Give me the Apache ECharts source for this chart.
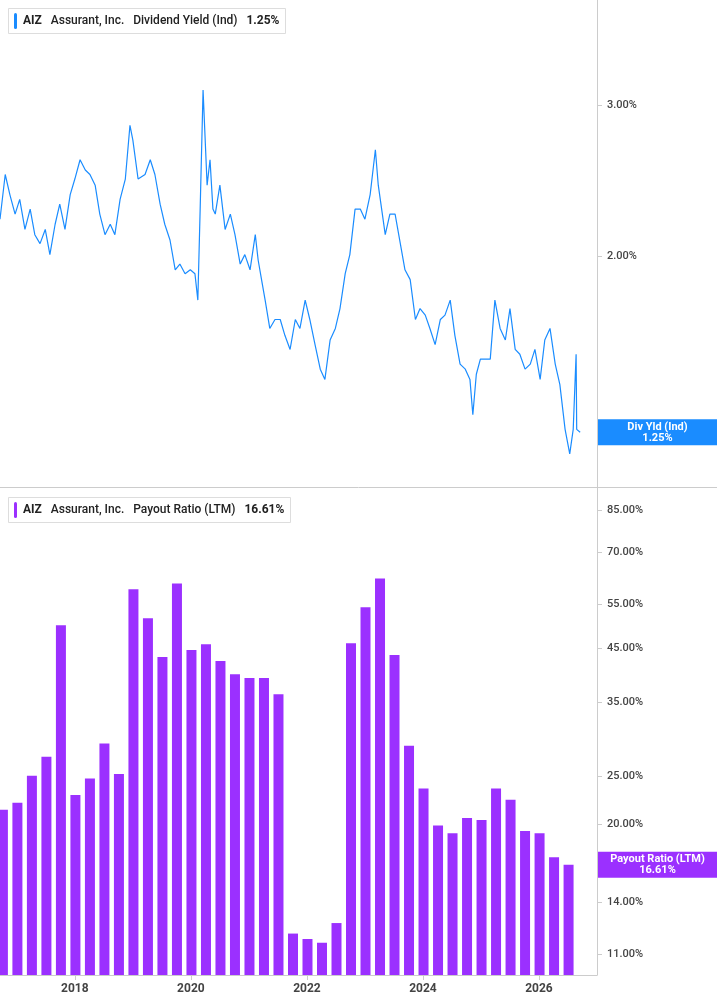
<!DOCTYPE html>
<html><head><meta charset="utf-8">
<script src="https://cdn.jsdelivr.net/npm/echarts@6/dist/echarts.min.js"></script>
<style>html,body{margin:0;padding:0;background:#fff}#c{width:717px;height:1005px}</style>
</head><body><div id="c"></div>
<script>
// Dividend yield (%) : decimal year, value
const yieldDates = [2016.71,2016.80,2016.88,2016.97,2017.05,2017.14,2017.23,2017.31,2017.40,2017.49,2017.57,2017.66,2017.74,2017.83,2017.92,2018.00,2018.09,2018.18,2018.26,2018.35,2018.43,2018.52,2018.61,2018.69,2018.78,2018.87,2018.95,2019.00,2019.09,2019.21,2019.30,2019.38,2019.47,2019.55,2019.64,2019.73,2019.81,2019.90,2019.99,2020.07,2020.12,2020.16,2020.21,2020.28,2020.33,2020.38,2020.42,2020.50,2020.59,2020.68,2020.76,2020.85,2020.93,2021.02,2021.11,2021.16,2021.23,2021.28,2021.36,2021.45,2021.54,2021.62,2021.71,2021.80,2021.88,2021.97,2022.05,2022.14,2022.23,2022.31,2022.40,2022.49,2022.57,2022.66,2022.74,2022.83,2022.92,2023.00,2023.09,2023.18,2023.23,2023.35,2023.43,2023.52,2023.61,2023.69,2023.78,2023.87,2023.95,2024.04,2024.12,2024.21,2024.30,2024.38,2024.47,2024.55,2024.64,2024.73,2024.81,2024.86,2024.92,2024.99,2025.07,2025.16,2025.24,2025.33,2025.42,2025.50,2025.59,2025.67,2025.76,2025.85,2025.93,2026.02,2026.10,2026.19,2026.28,2026.36,2026.45,2026.53,2026.59,2026.64,2026.65,2026.71];
const yieldValues = [2.21,2.49,2.36,2.24,2.33,2.15,2.27,2.12,2.07,2.15,2.01,2.18,2.30,2.15,2.36,2.46,2.59,2.52,2.49,2.42,2.24,2.12,2.18,2.12,2.33,2.46,2.84,2.73,2.46,2.49,2.59,2.49,2.30,2.18,2.09,1.93,1.96,1.91,1.93,1.91,1.78,2.27,3.12,2.42,2.59,2.27,2.24,2.42,2.15,2.24,2.12,1.96,2.01,1.93,2.12,1.98,1.86,1.78,1.65,1.69,1.69,1.62,1.56,1.69,1.65,1.78,1.69,1.58,1.48,1.44,1.60,1.65,1.74,1.91,2.01,2.27,2.27,2.21,2.36,2.66,2.42,2.12,2.24,2.24,2.07,1.93,1.88,1.69,1.74,1.71,1.65,1.58,1.69,1.71,1.78,1.62,1.50,1.48,1.44,1.31,1.46,1.52,1.52,1.52,1.78,1.65,1.60,1.74,1.56,1.54,1.48,1.50,1.56,1.44,1.60,1.65,1.50,1.42,1.26,1.18,1.26,1.54,1.26,1.25];
// Payout ratio (%) quarterly
const payoutDates = [2016.76,2017.01,2017.26,2017.51,2017.76,2018.01,2018.26,2018.51,2018.76,2019.01,2019.26,2019.51,2019.76,2020.01,2020.26,2020.51,2020.76,2021.01,2021.26,2021.51,2021.76,2022.01,2022.26,2022.51,2022.76,2023.01,2023.26,2023.51,2023.76,2024.01,2024.26,2024.51,2024.76,2025.01,2025.26,2025.51,2025.76,2026.01,2026.26,2026.51];
const payoutValues = [21.4,22.1,25.0,27.3,50.0,22.9,24.7,29.0,25.2,59.0,51.6,43.2,60.6,44.6,45.8,42.4,39.9,39.2,39.2,36.4,12.1,11.8,11.6,12.7,46.0,54.3,62.0,43.6,28.7,23.6,19.9,19.2,20.6,20.4,23.6,22.4,19.4,19.2,17.2,16.6];
const yieldTicks = [2, 3];
const payoutTicks = [11, 14, 20, 25, 35, 45, 55, 70, 85];
const yearTicks = [2018, 2020, 2022, 2024, 2026];

const L = Math.log;
const lineData = yieldDates.map((d, i) => [d, L(yieldValues[i])]);
const barData = payoutDates.map((d, i) => [d, L(payoutValues[i])]);
const lastYield = 1.25, lastPayout = 16.61;
const BLUE = '#1a8cff', PURPLE = '#9b30ff';
const lblFont = {color: '#444', fontSize: 11, fontFamily: 'Roboto', fontWeight: 500};

const chart = echarts.init(document.getElementById('c'));
chart.setOption({
  animation: false,
  grid: [
    {left: 0, right: 120, top: 0, height: 487},
    {left: 0, right: 120, top: 488, height: 487}
  ],
  title: [
    {left: 8, top: 8, padding: [5, 6], borderColor: '#ddd', borderWidth: 1, backgroundColor: '#fff',
     text: '{bar|}  {b|AIZ}   Assurant, Inc.   Dividend Yield (Ind)   {b|1.25%}',
     textStyle: {rich: {bar: {backgroundColor: BLUE, width: 3, height: 16, borderRadius: 2}, b: {fontWeight: 'bold', fontSize: 12, color: '#222'}}, fontSize: 12, color: '#222', fontWeight: 500, fontFamily: 'Roboto'}},
    {left: 8, top: 497, padding: [5, 6], borderColor: '#ddd', borderWidth: 1, backgroundColor: '#fff',
     text: '{bar|}  {b|AIZ}   Assurant, Inc.   Payout Ratio (LTM)   {b|16.61%}',
     textStyle: {rich: {bar: {backgroundColor: PURPLE, width: 3, height: 16, borderRadius: 2}, b: {fontWeight: 'bold', fontSize: 12, color: '#222'}}, fontSize: 12, color: '#222', fontWeight: 500, fontFamily: 'Roboto'}}
  ],
  xAxis: [
    {type: 'value', gridIndex: 0, min: 2016.71, max: 2027.0, axisLine: {show: false}, axisTick: {show: false}, axisLabel: {show: false}, splitLine: {show: false}},
    {type: 'value', gridIndex: 1, min: 2016.71, max: 2027.0, axisLine: {show: true, lineStyle: {color: '#ccc'}}, axisTick: {show: true, customValues: yearTicks, lineStyle: {color: '#ccc'}},
     axisLabel: Object.assign({}, lblFont, {customValues: yearTicks, formatter: v => String(Math.round(v)), fontWeight: 'bold', fontSize: 12}), splitLine: {show: false}}
  ],
  yAxis: [
    {type: 'value', gridIndex: 0, position: 'right', min: L(1.08), max: L(3.97),
     axisLine: {show: true, lineStyle: {color: '#ccc'}}, axisTick: {show: true, customValues: yieldTicks.map(L), lineStyle: {color: '#ccc'}},
     axisLabel: Object.assign({customValues: yieldTicks.map(L), formatter: v => Math.exp(v).toFixed(2) + '%', margin: 10}, lblFont), splitLine: {show: false}},
    {type: 'value', gridIndex: 1, position: 'right', min: L(10.0), max: L(94),
     axisLine: {show: true, lineStyle: {color: '#ccc'}}, axisTick: {show: true, customValues: payoutTicks.map(L), lineStyle: {color: '#ccc'}},
     axisLabel: Object.assign({customValues: payoutTicks.map(L), formatter: v => Math.exp(v).toFixed(2) + '%', margin: 10}, lblFont), splitLine: {show: false}}
  ],
  series: [
    {type: 'line', xAxisIndex: 0, yAxisIndex: 0, data: lineData, symbol: 'none', lineStyle: {color: BLUE, width: 1.2}},
    {type: 'bar', xAxisIndex: 1, yAxisIndex: 1, data: barData, barWidth: 10, itemStyle: {color: PURPLE}}
  ]
});

function tag(yAxisIndex, value, color, name) {
  const y = chart.convertToPixel({yAxisIndex: yAxisIndex}, L(value));
  return {type: 'group', x: 598, y: y - 13, children: [
    {type: 'rect', shape: {x: 0, y: 0, width: 119, height: 26}, style: {fill: color}},
    {type: 'text', x: 59.5, y: 2, style: {text: name + '\n' + value.toFixed(2) + '%', fill: '#fff', font: 'bold 11px Roboto', align: 'center', lineHeight: 11}}
  ]};
}
chart.setOption({graphic: [
  {type: 'line', shape: {x1: 0, y1: 487.5, x2: 717, y2: 487.5}, style: {stroke: '#ccc', lineWidth: 1}},
  tag(0, lastYield, BLUE, 'Div Yld (Ind)'),
  tag(1, lastPayout, PURPLE, 'Payout Ratio (LTM)')
]});
</script></body></html>
